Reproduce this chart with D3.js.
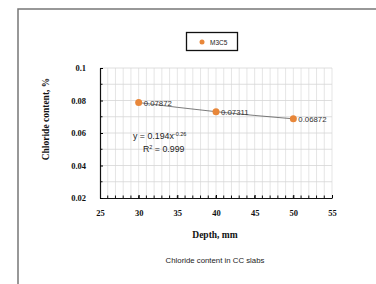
<!DOCTYPE html>
<html>
<head>
<meta charset="utf-8">
<script src="https://cdn.jsdelivr.net/npm/d3@7"></script>
<style>
  body { margin: 0; background: #fff; }
  svg { display: block; }
  .tick text { font-family: "Liberation Serif", serif; font-weight: bold; font-size: 8.5px; fill: #111; }
</style>
</head>
<body>
<div id="chart"></div>
<script>
var svgWidth = 376;
var svgHeight = 284;

// data
var depths = [30, 40, 50];
var chloride = [0.07872, 0.07311, 0.06872];
var seriesName = "M3C5";
var xTicks = [25, 30, 35, 40, 45, 50, 55];
var yTicks = [0.02, 0.04, 0.06, 0.08, 0.1];

var margin = { top: 68, left: 100 };
var width = 232;
var height = 130;

var svg = d3.select("#chart")
  .append("svg")
  .attr("width", svgWidth)
  .attr("height", svgHeight);

// outer frame
svg.append("rect")
  .attr("x", 18).attr("y", 9)
  .attr("width", 400).attr("height", 300)
  .attr("fill", "none")
  .attr("stroke", "#777")
  .attr("stroke-width", 1.5);

var chartGroup = svg.append("g")
  .attr("transform", `translate(${margin.left}, ${margin.top})`);

var x = d3.scaleLinear().domain([25, 55]).range([0, width]);
var y = d3.scaleLinear().domain([0.02, 0.1]).range([height, 0]);

// gridlines
chartGroup.append("g")
  .selectAll("line")
  .data(d3.range(26, 56, 1))
  .enter()
  .append("line")
  .attr("x1", d => x(d)).attr("x2", d => x(d))
  .attr("y1", 0).attr("y2", height)
  .attr("stroke", "#dedede")
  .attr("stroke-width", 0.8);

chartGroup.append("g")
  .selectAll("line")
  .data(d3.range(3, 11, 1).map(d => d / 100))
  .enter()
  .append("line")
  .attr("x1", 0).attr("x2", width)
  .attr("y1", d => y(d)).attr("y2", d => y(d))
  .attr("stroke", "#d6d6d6")
  .attr("stroke-width", 0.8);

// axes
var xAxis = d3.axisBottom(x).tickValues(xTicks).tickSizeInner(-3).tickSizeOuter(0).tickPadding(12);
var yAxis = d3.axisLeft(y).tickValues(yTicks).tickFormat(d3.format("")).tickSizeInner(-3).tickSizeOuter(0).tickPadding(14);

var gx = chartGroup.append("g")
  .attr("transform", `translate(0, ${height})`)
  .call(xAxis);
gx.select(".domain").attr("stroke", "#111").attr("stroke-width", 1.2);

var gy = chartGroup.append("g").call(yAxis);
gy.select(".domain").attr("stroke", "#111").attr("stroke-width", 1.2);

// minor ticks
chartGroup.append("g")
  .selectAll("line")
  .data(d3.range(26, 55, 1))
  .enter()
  .append("line")
  .attr("x1", d => x(d)).attr("x2", d => x(d))
  .attr("y1", height).attr("y2", height - 2.5)
  .attr("stroke", "#111");

chartGroup.append("g")
  .selectAll("line")
  .data([0.03, 0.05, 0.07, 0.09])
  .enter()
  .append("line")
  .attr("x1", 0).attr("x2", 2.5)
  .attr("y1", d => y(d)).attr("y2", d => y(d))
  .attr("stroke", "#111");

// trendline through the points
var pts = depths.map((d, i) => [d, chloride[i]]);
chartGroup.append("path")
  .datum(pts)
  .attr("d", d3.line().x(d => x(d[0])).y(d => y(d[1])).curve(d3.curveMonotoneX))
  .attr("fill", "none")
  .attr("stroke", "#444")
  .attr("stroke-width", 0.7);

// points
chartGroup.selectAll("circle")
  .data(pts)
  .enter()
  .append("circle")
  .attr("cx", d => x(d[0]))
  .attr("cy", d => y(d[1]))
  .attr("r", 3.5)
  .attr("fill", "#E8873A");

chartGroup.selectAll("text.lbl")
  .data(pts)
  .enter()
  .append("text")
  .attr("class", "lbl")
  .attr("x", d => x(d[0]) + 5)
  .attr("y", d => y(d[1]) + 3)
  .attr("font-family", "Liberation Sans, Arial, sans-serif")
  .attr("font-size", "7.8px")
  .attr("fill", "#333")
  .text(d => d[1]);

// equation
var eq = chartGroup.append("text")
  .attr("x", 33).attr("y", 71)
  .attr("font-family", "Liberation Sans, Arial, sans-serif")
  .attr("font-size", "8.8px")
  .attr("fill", "#222");
eq.append("tspan").text("y = 0.194x");
eq.append("tspan").attr("dy", -3.5).attr("font-size", "5.5px").text("-0.26");

var r2 = chartGroup.append("text")
  .attr("x", 43).attr("y", 84)
  .attr("font-family", "Liberation Sans, Arial, sans-serif")
  .attr("font-size", "8.8px")
  .attr("fill", "#222");
r2.append("tspan").text("R");
r2.append("tspan").attr("dy", -3.5).attr("font-size", "5.5px").text("2");
r2.append("tspan").attr("dy", 3.5).text(" = 0.999");

// axis titles
svg.append("text")
  .attr("transform", "translate(49, 119) rotate(-90)")
  .attr("text-anchor", "middle")
  .attr("font-family", "Liberation Serif, serif")
  .attr("font-weight", "bold")
  .attr("font-size", "9.5px")
  .attr("fill", "#111")
  .text("Chloride content, %");

svg.append("text")
  .attr("x", 215).attr("y", 238)
  .attr("text-anchor", "middle")
  .attr("font-family", "Liberation Serif, serif")
  .attr("font-weight", "bold")
  .attr("font-size", "9.5px")
  .attr("fill", "#111")
  .text("Depth, mm");

svg.append("text")
  .attr("x", 215).attr("y", 263)
  .attr("text-anchor", "middle")
  .attr("font-family", "Liberation Sans, Arial, sans-serif")
  .attr("font-size", "7.8px")
  .attr("fill", "#222")
  .text("Chloride content in CC slabs");

// legend
var legend = svg.append("g");
legend.append("rect")
  .attr("x", 186.5).attr("y", 32.5)
  .attr("width", 51).attr("height", 18)
  .attr("fill", "#fff")
  .attr("stroke", "#111")
  .attr("stroke-width", 1.3);
legend.append("circle")
  .attr("cx", 202).attr("cy", 42)
  .attr("r", 2.5)
  .attr("fill", "#E8873A");
legend.append("text")
  .attr("x", 210).attr("y", 44.5)
  .attr("font-family", "Liberation Sans, Arial, sans-serif")
  .attr("font-size", "6.5px")
  .attr("fill", "#222")
  .text(seriesName);
</script>
</body>
</html>
